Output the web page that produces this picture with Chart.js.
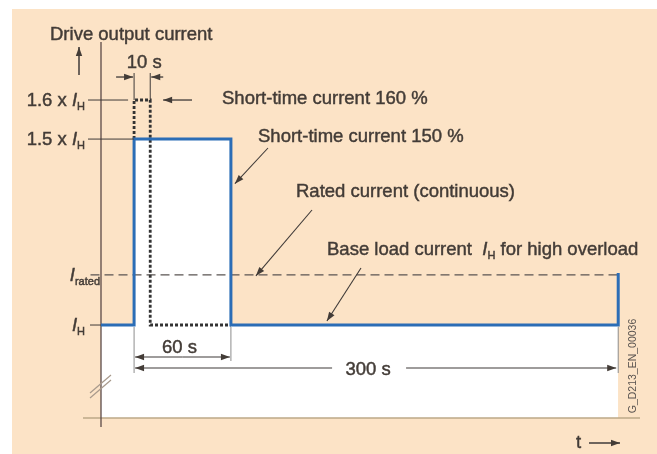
<!DOCTYPE html>
<html>
<head>
<meta charset="utf-8">
<script src="https://cdn.jsdelivr.net/npm/chart.js@4/dist/chart.umd.min.js"></script>
<style>
  html, body { margin: 0; padding: 0; background: #fff; }
  #wrap { width: 657px; height: 454px; }
</style>
</head>
<body>
<div id="wrap"><canvas id="chart" width="657" height="454"></canvas></div>
<script>
// time in seconds, current in multiples of I_H (schematic)
const timeRange = [-20.5, 313.5];
const currentRange = [0.75, 1.761];

const overloadTimes = [-20.5, 0, 0, 60, 60, 300, 300];
const overloadCurrent = [1.0, 1.0, 1.5, 1.5, 1.0, 1.0, 1.14];

const peakTimes = [0, 0, 10, 10, 60];
const peakCurrent = [1.5, 1.605, 1.605, 1.0, 1.0];

const ratedTimes = [-27, 301];
const ratedCurrent = [1.135, 1.135];

const tickValues = [1.605, 1.5, 1.135, 1.0];
const tickPrefix = ["1.6 x ", "1.5 x ", "", ""];
const tickSub = ["H", "H", "rated", "H"];

const durations = [10, 60, 300];
const durationLabels = ["10 s", "60 s", "300 s"];

const FAM = '"Liberation Sans", Arial, sans-serif';
const FS = 18.5;
const TEXT = "#433c37";
const LINE = "#3f3a38";
const PEACH = "#fce3c6";

function toPoints(xs, ys) {
  return xs.map((x, i) => ({ x, y: ys[i] }));
}

function arrowHead(ctx, x, y, angle, len = 9, half = 3.2) {
  ctx.save();
  ctx.translate(x, y);
  ctx.rotate(angle);
  ctx.beginPath();
  ctx.moveTo(0, 0);
  ctx.lineTo(-len, -half);
  ctx.lineTo(-len, half);
  ctx.closePath();
  ctx.fill();
  ctx.restore();
}

function arrow(ctx, x1, y1, x2, y2) {
  ctx.beginPath();
  ctx.moveTo(x1, y1);
  ctx.lineTo(x2, y2);
  ctx.stroke();
  arrowHead(ctx, x2, y2, Math.atan2(y2 - y1, x2 - x1));
}

function line(ctx, x1, y1, x2, y2) {
  ctx.beginPath();
  ctx.moveTo(x1, y1);
  ctx.lineTo(x2, y2);
  ctx.stroke();
}

// text with a light outline so it reads as heavy as the scanned original
function text(ctx, t, x, y) {
  ctx.save();
  ctx.lineWidth = 0.45;
  ctx.strokeStyle = ctx.fillStyle;
  ctx.fillText(t, x, y);
  ctx.strokeText(t, x, y);
  ctx.restore();
}

function richText(ctx, parts, x, y, align) {
  const fonts = {
    n: `${FS}px ${FAM}`,
    i: `italic ${FS}px ${FAM}`,
    s: `11px ${FAM}`
  };
  let total = 0;
  parts.forEach((p) => {
    ctx.font = fonts[p.s];
    p.w = ctx.measureText(p.t).width;
    total += p.w;
  });
  let cx = align === "right" ? x - total : align === "center" ? x - total / 2 : x;
  parts.forEach((p) => {
    ctx.font = fonts[p.s];
    text(ctx, p.t, cx, p.s === "s" ? y + 4 : y);
    cx += p.w;
  });
  ctx.font = fonts.n;
}

const diagram = {
  id: "diagram",
  beforeDraw(chart) {
    const { ctx } = chart;
    ctx.save();
    ctx.fillStyle = PEACH;
    ctx.fillRect(12, 9, chart.width - 12, chart.height - 9);
    ctx.restore();
  },
  beforeDatasetsDraw(chart) {
    const { ctx, chartArea: a } = chart;
    ctx.save();
    // time axis baseline
    ctx.strokeStyle = "#bda887";
    ctx.lineWidth = 1.5;
    line(ctx, a.left - 18, a.bottom, a.right, a.bottom);
    // current axis
    ctx.strokeStyle = "#5b4a47";
    ctx.lineWidth = 1.3;
    line(ctx, a.left, a.top, a.left, a.bottom + 9);
    // axis break
    ctx.strokeStyle = "#a89a8c";
    ctx.lineWidth = 1.2;
    line(ctx, a.left - 11, a.bottom - 25, a.left + 10, a.bottom - 43);
    line(ctx, a.left - 11, a.bottom - 20, a.left + 10, a.bottom - 38);
    ctx.restore();
  },
  afterDatasetsDraw(chart) {
    const { ctx, chartArea: a } = chart;
    const xs = chart.scales.x;
    const ys = chart.scales.y;
    const x0 = xs.getPixelForValue(0);
    ctx.save();
    ctx.fillStyle = TEXT;
    ctx.strokeStyle = LINE;
    ctx.lineWidth = 1;
    ctx.textBaseline = "alphabetic";

    // axis title and arrow
    ctx.font = `${FS}px ${FAM}`;
    text(ctx, "Drive output current", 50, 40);
    ctx.lineWidth = 1.5;
    arrow(ctx, 79, 75, 79, 47);
    ctx.lineWidth = 1;

    // y tick lines and labels
    tickValues.forEach((v, i) => {
      const y = ys.getPixelForValue(v);
      const parts = [];
      if (tickPrefix[i]) parts.push({ t: tickPrefix[i], s: "n" });
      parts.push({ t: "I", s: "i" });
      parts.push({ t: tickSub[i], s: "s" });
      const right = tickSub[i] === "rated" ? a.left - 1 : a.left - 16;
      richText(ctx, parts, right, y + 6, "right");
      if (i === 0) line(ctx, a.left - 13, y, x0 - 6, y);
      if (i === 1) line(ctx, a.left - 13, y, x0, y);
      if (i === 3) line(ctx, a.left - 11, y, a.left, y);
    });

    const yTop = ys.getPixelForValue(tickValues[0]);
    const yH = ys.getPixelForValue(1.0);
    const x10 = xs.getPixelForValue(durations[0]);
    const x60 = xs.getPixelForValue(durations[1]);
    const x300 = xs.getPixelForValue(durations[2]);

    // 10 s dimension
    line(ctx, x0, yTop, x0, yTop - 27);
    line(ctx, x10, yTop, x10, yTop - 27);
    ctx.lineWidth = 1.3;
    arrow(ctx, x0 - 18, yTop - 23, x0 - 1, yTop - 23);
    arrow(ctx, x10 + 13, yTop - 23, x10 + 1, yTop - 23);
    ctx.font = `${FS}px ${FAM}`;
    ctx.textAlign = "center";
    text(ctx, durationLabels[0], (x0 + x10) / 2 + 2, 68);
    ctx.textAlign = "left";

    // 160 % label + arrow
    arrow(ctx, 192, yTop, xs.getPixelForValue(18), yTop);
    text(ctx, "Short-time current 160 %", 222, 104);

    // 150 % label + leader
    text(ctx, "Short-time current 150 %", 258, 142);
    ctx.lineWidth = 1.1;
    arrow(ctx, 268, 148, x60 + 4, ys.getPixelForValue(1.38));

    // rated label + leader
    text(ctx, "Rated current (continuous)", 296, 197);
    arrow(ctx, 312, 210, xs.getPixelForValue(75.5), ys.getPixelForValue(ratedCurrent[0]) + 1);

    // base load label + leader
    richText(ctx, [
      { t: "Base load current  ", s: "n" },
      { t: "I", s: "i" },
      { t: "H", s: "s" },
      { t: " for high overload", s: "n" }
    ], 327, 255, "left");
    arrow(ctx, 361, 268, xs.getPixelForValue(119.5), yH - 4);

    // 60 s and 300 s dimensions
    ctx.strokeStyle = "#8d8d8d";
    ctx.lineWidth = 1;
    line(ctx, x0, yH + 2, x0, 373);
    line(ctx, x60, yH + 2, x60, 361);
    line(ctx, x300, yH + 2, x300, 373);
    ctx.strokeStyle = LINE;
    ctx.lineWidth = 1.2;
    const y60 = 357;
    arrow(ctx, (x0 + x60) / 2, y60, x0 + 1, y60);
    arrow(ctx, (x0 + x60) / 2, y60, x60 - 1, y60);
    ctx.textAlign = "center";
    text(ctx, durationLabels[1], (x0 + x60) / 2 - 3, 353);
    const y300 = 368;
    const mid = xs.getPixelForValue(145);
    arrow(ctx, mid - 36, y300, x0 + 1, y300);
    arrow(ctx, mid + 38, y300, x300 - 2, y300);
    text(ctx, durationLabels[2], mid, 375);

    // t arrow
    ctx.textAlign = "left";
    text(ctx, "t", 576, 448);
    ctx.lineWidth = 1.5;
    arrow(ctx, 589, 443, 620, 443);

    // drawing code
    ctx.save();
    ctx.translate(633, 366);
    ctx.rotate(-Math.PI / 2);
    ctx.font = `10.5px ${FAM}`;
    ctx.fillStyle = "#5a5450";
    ctx.textAlign = "center";
    ctx.textBaseline = "middle";
    ctx.fillText("G_D213_EN_00036", 0, 0);
    ctx.restore();

    ctx.restore();
  }
};

new Chart(document.getElementById("chart"), {
  type: "line",
  data: {
    datasets: [
      {
        label: "Short-time current 150 %",
        data: toPoints(overloadTimes, overloadCurrent),
        borderColor: "#2b6db6",
        borderWidth: 3,
        backgroundColor: "#ffffff",
        fill: "start",
        pointRadius: 0,
        tension: 0
      },
      {
        label: "Short-time current 160 %",
        data: toPoints(peakTimes, peakCurrent),
        borderColor: "#333333",
        borderWidth: 2.8,
        borderDash: [3, 2],
        fill: false,
        pointRadius: 0,
        tension: 0
      },
      {
        label: "Rated current (continuous)",
        data: toPoints(ratedTimes, ratedCurrent),
        borderColor: "#5a5452",
        borderWidth: 1.3,
        borderDash: [9, 5],
        fill: false,
        pointRadius: 0,
        tension: 0,
        clip: false
      }
    ]
  },
  options: {
    responsive: false,
    animation: false,
    events: [],
    layout: {
      padding: { left: 101, right: 17, top: 42, bottom: 36 }
    },
    scales: {
      x: { type: "linear", min: timeRange[0], max: timeRange[1], display: false },
      y: { type: "linear", min: currentRange[0], max: currentRange[1], display: false }
    },
    plugins: {
      legend: { display: false },
      tooltip: { enabled: false },
      filler: { drawTime: "beforeDatasetsDraw" }
    }
  },
  plugins: [diagram]
});
</script>
</body>
</html>
